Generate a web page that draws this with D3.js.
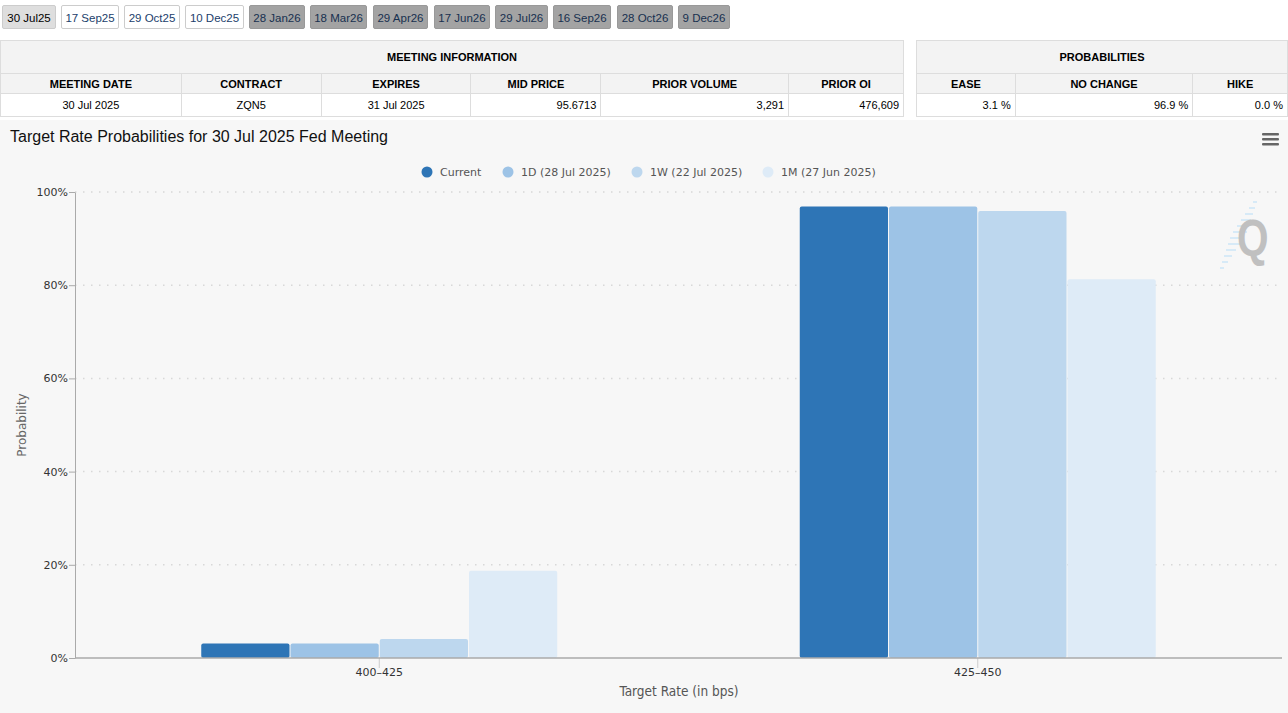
<!DOCTYPE html>
<html>
<head>
<meta charset="utf-8">
<script src="https://cdn.jsdelivr.net/npm/d3@7"></script>
<style>
  body { margin:0; width:1288px; height:713px; overflow:hidden; background:#fff; font-family:"Liberation Sans", Arial, sans-serif; }
  #wrap { position:relative; width:1288px; height:713px; }
  .btn { position:absolute; top:5px; height:24px; line-height:24px; font-size:11.5px; text-align:center; box-sizing:border-box; border:1px solid #ccc; border-radius:2px; color:#1b3e6b; }
  table { position:absolute; top:40px; border-collapse:collapse; font-size:11px; color:#000; }
  td { border:1px solid #ddd; padding:0 4px; box-sizing:border-box; }
</style>
</head>
<body>
<div id="wrap"></div>
<script>
// meeting tabs
const meetings = ['30 Jul25','17 Sep25','29 Oct25','10 Dec25','28 Jan26','18 Mar26','29 Apr26','17 Jun26','29 Jul26','16 Sep26','28 Oct26','9 Dec26'];
const meetingState = ['sel','on','on','on','off','off','off','off','off','off','off','off'];

// tables
const infoHeaders = ['MEETING DATE','CONTRACT','EXPIRES','MID PRICE','PRIOR VOLUME','PRIOR OI'];
const infoValues = ['30 Jul 2025','ZQN5','31 Jul 2025','95.6713','3,291','476,609'];
const probHeaders = ['EASE','NO CHANGE','HIKE'];
const probValues = ['3.1 %','96.9 %','0.0 %'];

// chart data
const categories = ['400\u2013425','425\u2013450'];
const seriesNames = ['Current','1D (28 Jul 2025)','1W (22 Jul 2025)','1M (27 Jun 2025)'];
const current = [3.1, 96.9];
const oneDay = [3.1, 96.9];
const oneWeek = [4.1, 95.9];
const oneMonth = [18.7, 81.3];
const yTicks = [0, 20, 40, 60, 80, 100];

const colors = ['#2e75b6','#9dc3e6','#bdd7ee','#deebf7'];
const seriesValues = [current, oneDay, oneWeek, oneMonth];

const wrap = d3.select('#wrap');

// buttons
const btnX = [2,61,124,185,249,310,373,434,495,553,617,678];
const btnW = [54,58,56,59,56,57,55,56,53,58,56,52];
wrap.selectAll('.btn').data(meetings).enter().append('div')
  .attr('class','btn')
  .style('left',(d,i)=>btnX[i]+'px')
  .style('width',(d,i)=>btnW[i]+'px')
  .style('background',(d,i)=>meetingState[i]=='sel'?'#dedede':meetingState[i]=='on'?'#fff':'#a3a3a3')
  .style('color',(d,i)=>meetingState[i]=='sel'?'#000':meetingState[i]=='on'?'#1b3e6b':'#17304f')
  .style('border-color',(d,i)=>meetingState[i]=='off'?'#999':'#ccc')
  .text(d=>d);

function makeTable(left, widths, title, headers, values){
  const t = wrap.append('table').style('left',left+'px');
  const total = d3.sum(widths);
  t.style('width',total+'px');
  t.append('tr').append('td').attr('colspan',headers.length)
    .style('height','33px').style('background','#f3f3f3').style('text-align','center').style('font-weight','bold')
    .text(title);
  t.append('tr').selectAll('td').data(headers).enter().append('td')
    .style('height','20px').style('width',(d,i)=>widths[i]+'px')
    .style('background','#f3f3f3').style('text-align','center').style('font-weight','bold')
    .text(d=>d);
  t.append('tr').selectAll('td').data(values).enter().append('td')
    .style('height','23px').style('background','#fff')
    .style('text-align',(d,i)=>(i<3 && headers.length>3)?'center':'right')
    .text(d=>d);
}
makeTable(0,[181,140,150,130,188,115],'MEETING INFORMATION',infoHeaders,infoValues);
makeTable(916,[99,178,95],'PROBABILITIES',probHeaders,probValues);

// chart
const svg = wrap.append('svg')
  .style('position','absolute').style('left','0px').style('top','120px')
  .attr('width',1288).attr('height',593);
svg.append('rect').attr('width',1288).attr('height',593).attr('fill','#f7f7f7');

const top0 = 120;
const y = d3.scaleLinear().domain([0,100]).range([658-top0, 192-top0]);
const x = d3.scaleBand().domain(categories).range([80,1277]);
const inner = d3.scaleBand().domain(seriesNames).range([0,357]);
const groupOff = (x.bandwidth()-357)/2;

svg.append('text').attr('x',10).attr('y',22).attr('font-size',16)
  .attr('font-family','"Liberation Sans", Arial, sans-serif').attr('fill','#111')
  .text('Target Rate Probabilities for 30 Jul 2025 Fed Meeting');

// hamburger
svg.append('g').selectAll('rect').data([0,1,2]).enter().append('rect')
  .attr('x',1262).attr('y',d=>13+d*5).attr('width',17).attr('height',2.5).attr('rx',1).attr('fill','#666');

// legend
const legX = [427,508,637,768];
const leg = svg.append('g').selectAll('g').data(seriesNames).enter().append('g')
  .attr('transform',(d,i)=>`translate(${legX[i]},52)`);
leg.append('circle').attr('r',5.5).attr('fill',(d,i)=>colors[i]);
leg.append('text').attr('x',13).attr('y',4).attr('font-size',11)
  .attr('font-family','"DejaVu Sans", sans-serif').attr('fill','#555').text(d=>d);

// grid
svg.append('g').selectAll('line').data(yTicks.slice(1)).enter().append('line')
  .attr('x1',75).attr('x2',1282).attr('y1',d=>y(d)).attr('y2',d=>y(d))
  .attr('stroke','#d8d8d8').attr('stroke-dasharray','1.5,6.5').attr('stroke-width',1.5);

// watermark
const wm = svg.append('g');
const stripeLen = [4,6,8,10,12,14,14,12,10,8,6,4];
wm.selectAll('line').data(stripeLen).enter().append('line')
  .attr('x1',(d,i)=>1255-i*3-d/2).attr('x2',(d,i)=>1255-i*3+d/2)
  .attr('y1',(d,i)=>82+i*6).attr('y2',(d,i)=>82+i*6)
  .attr('stroke','#cfe6f7').attr('stroke-width',1.6);
wm.append('text').attr('transform','translate(1237,136) scale(0.78,1)').attr('font-size',52).attr('font-weight','bold')
  .attr('font-family','"Liberation Sans", Arial, sans-serif').attr('fill','#c0c0c0').text('Q');

// bars
const g = svg.append('g');
seriesNames.forEach((s,si)=>{
  g.selectAll('.b'+si).data(categories).enter().append('rect')
    .attr('x',(c)=>x(c)+groupOff+inner(s)+0.5)
    .attr('width',inner.bandwidth()-1)
    .attr('y',(c,ci)=>y(seriesValues[si][ci]))
    .attr('height',(c,ci)=>y(0)-y(seriesValues[si][ci]))
    .attr('rx',2).attr('fill',colors[si]);
});

// y axis
const yAxis = svg.append('g').attr('transform','translate(75,0)')
  .call(d3.axisLeft(y).tickValues(yTicks).tickFormat(d=>d+'%').tickSize(8).tickSizeOuter(0));
yAxis.select('.domain').attr('stroke','#aaa');
yAxis.selectAll('.tick line').attr('stroke','#aaa').attr('x2',0).attr('x1',-6);
yAxis.selectAll('.tick text').attr('x',-7).attr('font-size',11)
  .attr('font-family','"DejaVu Sans", sans-serif').attr('fill','#333');

// x axis
const xAxis = svg.append('g').attr('transform',`translate(0,${y(0)})`)
  .call(d3.axisBottom(x).tickSize(10).tickSizeOuter(0));
xAxis.select('.domain').remove();
xAxis.append('line').attr('x1',75).attr('x2',1282).attr('stroke','#aaa').attr('stroke-width',1.5);
xAxis.selectAll('.tick line').attr('stroke','#ccc');
xAxis.selectAll('.tick text').attr('y',10).attr('font-size',11)
  .attr('font-family','"DejaVu Sans", sans-serif').attr('fill','#333');

svg.append('text').attr('transform',`translate(26,${y(50)}) rotate(-90)`).attr('text-anchor','middle')
  .attr('font-size',12).attr('font-family','"DejaVu Sans", sans-serif').attr('fill','#666').text('Probability');
svg.append('text').attr('x',679).attr('y',576).attr('text-anchor','middle')
  .attr('font-size',13.5).attr('font-family','"DejaVu Sans Condensed", "DejaVu Sans", sans-serif').attr('fill','#555').text('Target Rate (in bps)');
</script>
</body>
</html>
